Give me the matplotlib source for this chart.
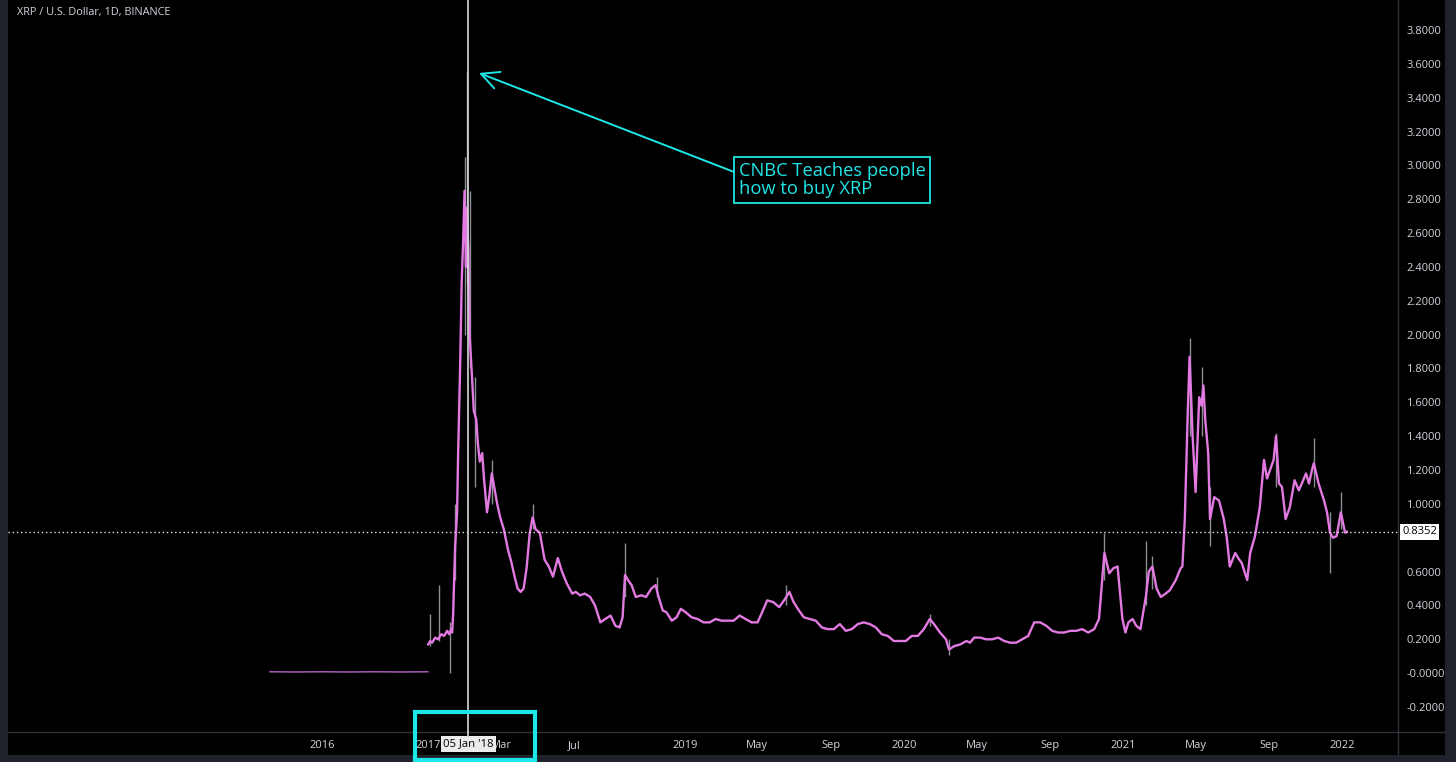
import numpy as np
import matplotlib.pyplot as plt
from matplotlib.patches import Rectangle

# ---- values ----
early_dates = ['2015-07-06', '2015-10-01', '2016-01-01', '2016-04-01',
               '2016-07-01', '2016-10-01', '2016-12-31']
early_close = [0.008, 0.007, 0.008, 0.007, 0.008, 0.007, 0.008]

dates = ['2017-01-01', '2017-01-20', '2017-02-08', '2017-03-09', '2017-04-07', '2017-05-06',
         '2017-06-04', '2017-07-03', '2017-07-22', '2017-08-10', '2017-08-20', '2017-08-30',
         '2017-09-18', '2017-10-07', '2017-10-17', '2017-11-05', '2017-11-20', '2017-12-04',
         '2017-12-18', '2018-01-01', '2018-01-02', '2018-01-05', '2018-01-07', '2018-01-11',
         '2018-01-14', '2018-01-18', '2018-01-21', '2018-01-24', '2018-01-28', '2018-01-31',
         '2018-02-05', '2018-02-09', '2018-02-13', '2018-02-17', '2018-02-22', '2018-02-27',
         '2018-03-05', '2018-03-12', '2018-03-18', '2018-03-23', '2018-03-28', '2018-04-02',
         '2018-04-07', '2018-04-12', '2018-04-17', '2018-04-22', '2018-04-27', '2018-05-04',
         '2018-05-12', '2018-05-19', '2018-05-26', '2018-06-03', '2018-06-10', '2018-06-18',
         '2018-06-27', '2018-07-03', '2018-07-10', '2018-07-18', '2018-07-27', '2018-08-04',
         '2018-08-13', '2018-08-21', '2018-08-30', '2018-09-07', '2018-09-14', '2018-09-19',
         '2018-09-23', '2018-09-28', '2018-10-04', '2018-10-11', '2018-10-20', '2018-10-28',
         '2018-11-06', '2018-11-13', '2018-11-18', '2018-11-25', '2018-12-01', '2018-12-10',
         '2018-12-18', '2018-12-25', '2019-01-02', '2019-01-12', '2019-01-22', '2019-02-01',
         '2019-02-11', '2019-02-21', '2019-03-03', '2019-03-13', '2019-03-23', '2019-04-02',
         '2019-04-12', '2019-04-22', '2019-05-02', '2019-05-12', '2019-05-18', '2019-05-28',
         '2019-06-07', '2019-06-17', '2019-06-24', '2019-07-01', '2019-07-08', '2019-07-18',
         '2019-07-28', '2019-08-07', '2019-08-17', '2019-08-27', '2019-09-06', '2019-09-16',
         '2019-09-26', '2019-10-06', '2019-10-16', '2019-10-26', '2019-11-05', '2019-11-15',
         '2019-11-25', '2019-12-05', '2019-12-15', '2019-12-25', '2020-01-04', '2020-01-14',
         '2020-01-24', '2020-02-03', '2020-02-13', '2020-02-20', '2020-03-01', '2020-03-11',
         '2020-03-16', '2020-03-25', '2020-04-04', '2020-04-14', '2020-04-20', '2020-04-27',
         '2020-05-07', '2020-05-17', '2020-05-27', '2020-06-06', '2020-06-16', '2020-06-26',
         '2020-07-06', '2020-07-16', '2020-07-26', '2020-08-05', '2020-08-15', '2020-08-25',
         '2020-09-04', '2020-09-14', '2020-09-24', '2020-10-04', '2020-10-14', '2020-10-24',
         '2020-11-03', '2020-11-13', '2020-11-21', '2020-11-30', '2020-12-08', '2020-12-15',
         '2020-12-22', '2020-12-30', '2021-01-04', '2021-01-09', '2021-01-16', '2021-01-22',
         '2021-01-29', '2021-02-07', '2021-02-12', '2021-02-18', '2021-02-25', '2021-03-04',
         '2021-03-12', '2021-03-19', '2021-03-29', '2021-04-06', '2021-04-09', '2021-04-13',
         '2021-04-18', '2021-04-21', '2021-04-26', '2021-05-01', '2021-05-04', '2021-05-07',
         '2021-05-11', '2021-05-14', '2021-05-17', '2021-05-22', '2021-05-25', '2021-06-01',
         '2021-06-09', '2021-06-17', '2021-06-22', '2021-06-27', '2021-07-06', '2021-07-11',
         '2021-07-17', '2021-07-26', '2021-07-31', '2021-08-08', '2021-08-16', '2021-08-23',
         '2021-08-28', '2021-08-31', '2021-09-08', '2021-09-12', '2021-09-17', '2021-09-22',
         '2021-09-28', '2021-10-05', '2021-10-13', '2021-10-20', '2021-10-25', '2021-11-01',
         '2021-11-06', '2021-11-11', '2021-11-14', '2021-11-22', '2021-12-01', '2021-12-06',
         '2021-12-11', '2021-12-16', '2021-12-22', '2021-12-29', '2022-01-01', '2022-01-05',
         '2022-01-08']
close = [0.17, 0.19, 0.18, 0.21, 0.20, 0.23,
         0.22, 0.25, 0.23, 0.26, 0.24, 0.35,
         0.75, 0.95, 1.30, 1.80, 2.30, 2.55,
         2.85, 2.40, 2.75, 2.50, 2.00, 1.75,
         1.55, 1.50, 1.35, 1.25, 1.30, 1.15,
         0.95, 1.05, 1.18, 1.10, 1.00, 0.92,
         0.85, 0.73, 0.65, 0.57, 0.50, 0.48,
         0.50, 0.62, 0.82, 0.92, 0.85, 0.83,
         0.67, 0.63, 0.57, 0.68, 0.60, 0.53,
         0.47, 0.48, 0.46, 0.47, 0.45, 0.40,
         0.30, 0.32, 0.34, 0.28, 0.27, 0.33,
         0.58, 0.55, 0.52, 0.45, 0.46, 0.45,
         0.50, 0.52, 0.45, 0.37, 0.36, 0.31,
         0.33, 0.38, 0.36, 0.33, 0.32, 0.30,
         0.30, 0.32, 0.31, 0.31, 0.31, 0.34,
         0.32, 0.30, 0.30, 0.38, 0.43, 0.42,
         0.39, 0.44, 0.48, 0.42, 0.38, 0.33,
         0.32, 0.31, 0.27, 0.26, 0.26, 0.29,
         0.25, 0.26, 0.29, 0.30, 0.29, 0.27,
         0.23, 0.22, 0.19, 0.19, 0.19, 0.22,
         0.22, 0.26, 0.32, 0.29, 0.24, 0.20,
         0.14, 0.16, 0.17, 0.19, 0.18, 0.21,
         0.21, 0.20, 0.20, 0.21, 0.19, 0.18,
         0.18, 0.20, 0.22, 0.30, 0.30, 0.28,
         0.25, 0.24, 0.24, 0.25, 0.25, 0.26,
         0.24, 0.26, 0.32, 0.71, 0.59, 0.62,
         0.63, 0.32, 0.24, 0.30, 0.32, 0.28,
         0.26, 0.45, 0.60, 0.63, 0.50, 0.45,
         0.47, 0.49, 0.55, 0.62, 0.63, 0.91,
         1.55, 1.87, 1.40, 1.07, 1.35, 1.63,
         1.58, 1.70, 1.50, 1.30, 0.91, 1.04,
         1.02, 0.91, 0.80, 0.63, 0.71, 0.68,
         0.65, 0.55, 0.71, 0.81, 0.98, 1.26,
         1.15, 1.18, 1.26, 1.40, 1.12, 1.10,
         0.91, 0.98, 1.14, 1.08, 1.12, 1.18,
         1.12, 1.20, 1.24, 1.12, 1.02, 0.95,
         0.83, 0.80, 0.81, 0.95, 0.90, 0.83,
         0.8352]

# high / low wicks that stick out of the line
wick_dates = ['2017-01-20', '2017-04-12', '2017-07-31', '2017-09-18', '2017-12-27', '2018-01-03',
              '2018-01-07', '2018-01-16', '2018-02-13', '2018-04-22', '2018-09-23', '2018-11-15',
              '2019-06-19', '2020-02-13', '2020-03-16', '2020-11-30', '2021-02-07', '2021-02-18',
              '2021-04-21', '2021-05-12', '2021-05-25', '2021-09-12', '2021-11-14', '2021-12-11',
              '2021-12-29']
wick_low = [0.16, 0.19, 0.00, 0.55, 2.00, 2.30,
            1.80, 1.10, 1.00, 0.85, 0.45, 0.45,
            0.40, 0.28, 0.11, 0.55, 0.40, 0.50,
            1.40, 1.40, 0.75, 1.10, 1.10, 0.59,
            0.85]
wick_high = [0.35, 0.52, 0.30, 1.00, 3.05, 3.55,
             2.85, 1.75, 1.26, 1.00, 0.77, 0.57,
             0.52, 0.35, 0.20, 0.83, 0.78, 0.69,
             1.98, 1.81, 1.10, 1.42, 1.39, 0.95,
             1.07]

last_price = 0.8352
crosshair_date = '2018-01-05'
crosshair_label = "05 Jan '18"

# the 2018 label sits under the crosshair tag, so it is left blank
tick_dates = ['2016-01-01', '2017-01-01', '2018-03-01', '2018-07-01', '2019-01-01',
              '2019-05-01', '2019-09-01', '2020-01-01', '2020-05-01', '2020-09-01', '2021-01-01',
              '2021-05-01', '2021-09-01', '2022-01-01']
tick_labels = ['2016', '2017', 'Mar', 'Jul', '2019', 'May', 'Sep', '2020', 'May', 'Sep',
               '2021', 'May', 'Sep', '2022']
# 0.8000 is hidden by the last price tag
price_ticks = [-0.2, 0.0, 0.2, 0.4, 0.6, 1.0, 1.2, 1.4, 1.6, 1.8, 2.0,
               2.2, 2.4, 2.6, 2.8, 3.0, 3.2, 3.4, 3.6, 3.8]
price_labels = ['-0.2000', '-0.0000', '0.2000', '0.4000', '0.6000', '1.0000', '1.2000',
                '1.4000', '1.6000', '1.8000', '2.0000', '2.2000', '2.4000', '2.6000', '2.8000',
                '3.0000', '3.2000', '3.4000', '3.6000', '3.8000']

# tradingview style bar scale: early years are squeezed, one bar per day from 2018 on
scale_dates = ['2015-01-01', '2016-01-01', '2017-01-01', '2018-01-01', '2022-12-31']
scale_bars = [-417, -240, -63, 0, 1825]


def to_x(d):
    days = np.array(d, dtype='datetime64[D]').astype(float)
    ref = np.array(scale_dates, dtype='datetime64[D]').astype(float)
    return np.interp(days, ref, scale_bars)


W, H = 1456, 762
BG = '#000000'
BORDER = '#1f222b'
SEP = '#2f323c'
TXT = '#d1d4dc'
PINK = '#e27ae2'
WICK = '#8e8e96'
CYAN = '#1ee6e6'
plt.rcParams['font.family'] = ['Open Sans', 'DejaVu Sans']

fig = plt.figure(figsize=(W / 100, H / 100), dpi=100, facecolor=BORDER)
# black panel behind plot + axis strips
fig.add_artist(Rectangle((8 / W, (H - 755) / H), (1445 - 8) / W, 755 / H,
                         transform=fig.transFigure, facecolor=BG, edgecolor='none', zorder=-2))

ax = fig.add_axes([8 / W, (H - 732) / H, (1398 - 8) / W, 732 / H])
ax.set_facecolor(BG)
for s in ax.spines.values():
    s.set_visible(False)

ax.vlines(to_x(wick_dates), wick_low, wick_high, color=WICK, lw=1.0, zorder=2)
ax.plot(to_x(early_dates), early_close, color='#b866c8', lw=1.0, zorder=3)
ax.plot(to_x(dates), close, color=PINK, lw=1.7, zorder=3)

ax.set_xlim((8 - 466) / 0.6, (1398 - 466) / 0.6)
ax.set_ylim(-0.2 - 25 / 169.25, 3.8 + 30 / 169.25)

ax.set_xticks(to_x(tick_dates))
ax.set_xticklabels(tick_labels)
ax.yaxis.tick_right()
ax.set_yticks(price_ticks)
ax.set_yticklabels(price_labels, ha='left')
ax.tick_params(axis='x', length=0, pad=6, colors=TXT, labelsize=8)
ax.tick_params(axis='y', length=0, pad=6, colors=TXT, labelsize=8)

# last price line + crosshair
ax.axhline(last_price, color='#e6e6e6', lw=1.0, ls=(0, (1, 2)), zorder=4)
ax.axvline(to_x(crosshair_date), color='#d8d8d8', lw=1.2, zorder=5)

# separators of the axis strips
fig.add_artist(plt.Line2D([8 / W, 1445 / W], [(H - 732) / H] * 2, color=SEP, lw=1, zorder=3))
fig.add_artist(plt.Line2D([1398 / W] * 2, [(H - 755) / H, 1], color=SEP, lw=1, zorder=3))

# last price tag on the price scale
tr = ax.get_yaxis_transform()
ax.text(1.0031, last_price, '%.4f' % last_price, transform=tr, ha='left', va='center',
        fontsize=8, color='#000000', clip_on=False, zorder=6,
        bbox=dict(boxstyle='square,pad=0.2', facecolor='#ffffff', edgecolor='none'))

# crosshair date tag on the time scale
xf = (to_x(crosshair_date) - ax.get_xlim()[0]) / (ax.get_xlim()[1] - ax.get_xlim()[0])
ax.text(xf, -0.0165, crosshair_label, transform=ax.transAxes, ha='center', va='center',
        fontsize=8.1, color='#000000', clip_on=False, zorder=6,
        bbox=dict(boxstyle='square,pad=0.22', facecolor='#ececec', edgecolor='none'))
fig.add_artist(plt.Line2D([xf * (1390 / W) + 8 / W] * 2, [(H - 737) / H, (H - 732) / H],
                          color='#d8d8d8', lw=1.2, zorder=5))

# highlight box round the date tag
fig.add_artist(Rectangle((415 / W, (H - 760) / H), 120 / W, 48 / H, transform=fig.transFigure,
                         facecolor='none', edgecolor=CYAN, lw=3, zorder=7))

# title
fig.text(17 / W, 1 - 13 / H, 'XRP / U.S. Dollar, 1D, BINANCE', color=TXT, fontsize=7.8,
         ha='left', va='center')

# note with arrow
ax.annotate('CNBC Teaches people\nhow to buy XRP',
            xy=(479 / W, 1 - 73 / H), xycoords='figure fraction',
            xytext=(739 / W, 1 - 180 / H), textcoords='figure fraction',
            ha='left', va='center', fontsize=13.2, color=CYAN, linespacing=1.0,
            bbox=dict(boxstyle='square,pad=0.25', facecolor='#000000', edgecolor=CYAN, lw=1.3),
            arrowprops=dict(arrowstyle='->,head_length=0.7,head_width=0.35', color=CYAN, lw=1.4,
                            relpos=(0, 0.67), shrinkA=0, shrinkB=0, mutation_scale=18),
            zorder=8)

fig.savefig('out.png', dpi=100, facecolor=fig.get_facecolor())
